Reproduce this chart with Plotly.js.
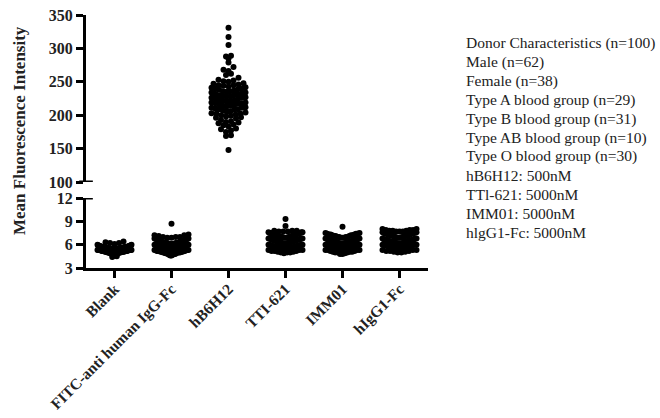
<!DOCTYPE html>
<html>
<head>
<meta charset="utf-8">
<script src="https://cdn.plot.ly/plotly-3.0.1.min.js"></script>
<style>html,body{margin:0;padding:0;background:#fff;}#chart{width:660px;height:418px;}</style>
</head>
<body>
<div id="chart"></div>
<script>
const categories = ["Blank", "FITC-anti human IgG-Fc", "hB6H12", "TTI-621", "IMM01", "hIgG1-Fc"];

const blank = [5.3,5.6,5.1,5.8,4.9,5.4,5.7,5.2,6.3,5.5, 5.0,5.6,5.3,4.7,5.9,5.4,5.1,5.7,5.5,6.2,
  5.2,4.8,5.6,5.3,5.8,5.0,5.4,4.5,5.7,5.5, 5.1,5.9,5.3,5.6,4.9,5.4,6.1,5.2,5.5,5.0,
  5.7,5.3,4.6,5.6,5.4,5.8,5.1,5.5,6.4,5.2, 4.9,5.6,5.3,5.7,5.0,5.4,5.9,5.2,5.5,4.8,
  5.6,5.1,5.8,5.3,6.0,5.4,4.7,5.7,5.2,5.5, 5.0,5.6,5.3,5.9,4.9,5.4,5.7,5.1,6.2,5.5,
  5.2,5.8,4.6,5.6,5.3,5.4,5.0,5.7,5.5,6.0, 5.1,4.8,5.6,5.3,5.8,5.4,4.4,5.7,5.2,5.5];

const fitc = [5.8,6.3,5.2,7.0,5.5,6.1,4.8,5.9,6.6,5.4, 5.1,6.0,7.2,5.6,4.9,6.4,5.3,5.8,6.9,5.0,
  6.2,5.5,4.6,5.7,6.7,5.2,6.0,5.4,7.3,5.9, 5.0,6.5,5.6,5.3,6.1,4.7,5.8,7.1,5.5,6.3,
  5.2,5.9,6.8,5.4,4.9,6.0,5.7,8.7,5.1,6.2, 5.6,5.0,6.4,5.3,7.0,5.8,4.8,6.1,5.5,5.9,
  6.6,5.2,5.7,4.6,6.3,5.4,6.9,5.0,5.8,6.0, 5.3,7.2,5.6,4.9,6.2,5.1,5.9,6.5,5.4,5.7,
  6.0,4.7,5.5,6.7,5.2,5.8,7.0,5.0,6.1,5.6, 5.4,6.4,4.8,5.9,5.3,6.8,5.1,5.7,6.2,5.5];

const hb6h12 = [221,245,198,236,183,262,214,229,205,252, 190,240,226,177,211,233,289,202,218,247,
  195,231,208,256,170,224,241,199,216,305, 228,186,237,212,250,203,222,180,243,209,
  234,266,193,219,227,148,239,206,253,214, 188,230,201,245,223,272,196,236,211,179,
  242,217,226,285,204,232,191,248,220,209, 260,185,238,225,200,317,213,244,228,197,
  268,218,234,175,207,251,222,279,189,240, 215,331,230,202,246,169,219,235,288,210];

const tti621 = [6.5,7.2,5.8,6.9,5.3,7.6,6.1,5.0,7.0,6.4, 5.6,7.8,6.7,5.2,7.3,6.0,9.3,6.8,5.5,7.1,
  6.3,5.9,7.5,4.9,6.6,7.7,5.4,6.2,7.0,5.7, 8.4,6.4,5.1,7.4,6.8,5.8,7.2,6.1,5.3,6.9,
  7.6,6.5,5.6,7.1,6.0,5.0,7.8,6.7,5.9,7.3, 6.2,5.4,7.0,6.6,5.2,7.5,6.3,5.7,6.9,7.7,
  5.5,6.4,7.2,6.0,5.1,6.8,7.4,5.8,6.5,7.0, 6.1,5.3,7.6,6.7,5.9,7.1,6.3,5.0,6.9,7.8,
  5.6,7.3,6.4,5.2,6.6,7.5,6.0,5.7,7.0,6.2, 7.2,5.4,6.8,6.5,5.8,7.7,6.1,5.5,6.7,7.4];

const imm01 = [6.0,6.8,5.4,7.2,5.8,6.4,5.1,6.6,7.0,5.6, 6.2,5.0,7.4,5.9,6.5,5.3,6.9,6.1,4.8,7.1,
  5.7,6.3,7.5,5.5,6.7,6.0,5.2,6.4,7.3,5.8, 8.3,6.1,5.4,6.8,5.9,7.0,5.0,6.5,6.2,5.6,
  7.2,5.7,6.4,5.3,6.9,6.0,7.4,5.5,6.6,5.1, 6.3,7.1,5.8,6.1,4.9,6.7,5.4,7.3,6.2,5.9,
  6.5,5.2,7.0,6.0,5.6,6.8,7.5,5.3,6.4,5.7, 6.1,7.2,5.5,6.6,5.0,6.3,7.1,5.8,6.9,6.2,
  5.4,6.7,7.4,5.9,6.0,5.1,6.5,7.0,5.6,6.3, 6.8,5.3,6.1,7.3,5.7,6.4,4.8,6.6,5.5,6.2];

const higg1fc = [6.5,7.3,5.8,7.9,6.1,5.4,7.0,6.7,5.2,7.6, 6.3,5.6,7.8,6.9,5.1,7.2,6.0,8.0,5.9,6.6,
  7.4,5.3,6.8,6.2,7.7,5.7,6.4,7.1,5.0,6.9, 6.1,7.5,5.5,6.6,7.9,5.9,7.0,6.3,5.2,7.3,
  6.7,5.8,7.6,6.0,5.4,7.2,6.5,7.8,5.6,6.8, 7.1,6.2,5.3,7.4,6.4,5.9,7.7,6.1,5.1,7.0,
  6.6,7.9,5.7,6.3,7.3,5.5,6.9,6.0,7.5,5.8, 6.4,5.2,7.6,6.7,5.9,7.1,6.2,7.8,5.4,6.5,
  7.2,6.0,5.6,7.0,6.8,5.0,7.4,6.3,5.8,7.7, 6.1,6.9,5.3,7.5,6.6,5.7,7.2,6.4,8.0,6.0];

const lowerTicks = [3, 6, 9, 12];
const upperTicks = [100, 150, 200, 250, 300, 350];
const yTitle = "Mean Fluorescence Intensity";
const notes = ["Donor Characteristics (n=100)", "Male (n=62)", "Female (n=38)",
  "Type A blood group (n=29)", "Type B blood group (n=31)", "Type AB blood group (n=10)",
  "Type O blood group (n=30)", "hB6H12: 500nM", "TTl-621: 5000nM", "IMM01: 5000nM", "hlgG1-Fc: 5000nM"];

// geometry
const W = 660, H = 418;
const M = {l: 86, r: 232, t: 15, b: 150};
const plotW = W - M.l - M.r, plotH = H - M.t - M.b;
const lowerDom = [0, 70 / plotH];
const upperDom = [86 / plotH, 1];
const lowerRange = [3, 12], upperRange = [100, 350];
const pxPerCat = plotW / categories.length;

function swarm(vals, idx, range, dom, binPx, dotPx, maxHalf) {
  const pxPerUnit = (dom[1] - dom[0]) * plotH / (range[1] - range[0]);
  const sorted = vals.slice().sort((a, b) => a - b);
  const bins = {};
  sorted.forEach(v => {
    const b = Math.floor((v - range[0]) * pxPerUnit / binPx + 1e-6);
    (bins[b] = bins[b] || []).push(v);
  });
  const xs = [], ys = [];
  Object.keys(bins).forEach(k => {
    const g = bins[k];
    const n = g.length;
    const s = n > 1 ? Math.min(dotPx, 2 * maxHalf / (n - 1)) : 0;
    const offs = [];
    if (n % 2 === 1) {
      offs.push(0);
      for (let i = 1; offs.length < n; i++) { offs.push(-i * s); if (offs.length < n) offs.push(i * s); }
    } else {
      for (let i = 0; offs.length < n; i++) { offs.push(-(i + 0.5) * s); offs.push((i + 0.5) * s); }
    }
    g.forEach((v, j) => { xs.push(idx + offs[j] / pxPerCat); ys.push(v); });
  });
  return {x: xs, y: ys};
}

const series = [blank, fitc, hb6h12, tti621, imm01, higg1fc];
const traces = series.map((vals, i) => {
  const upper = i === 2;
  const s = upper ? swarm(vals, i, upperRange, upperDom, 5, 5, 17)
                  : swarm(vals, i, lowerRange, lowerDom, 6, 4.5, 17);
  return {
    type: "scatter", mode: "markers", x: s.x, y: s.y,
    xaxis: "x", yaxis: upper ? "y2" : "y",
    marker: {color: "#000", size: 6, line: {width: 0}},
    hoverinfo: "skip", showlegend: false
  };
});

const font = {family: "Liberation Serif, Times New Roman, serif", color: "#222"};
const tickFontY = Object.assign({}, font, {size: 16});
const tickFontX = Object.assign({}, font, {size: 15.5});
const bold = t => "<b>" + t + "</b>";

const annotations = [{
  text: bold(yTitle), xref: "paper", yref: "paper", x: (19 - M.l) / plotW, y: 1 - (131 - M.t) / plotH,
  xanchor: "center", yanchor: "middle", textangle: -90, showarrow: false,
  font: Object.assign({}, font, {size: 17})
}];
notes.forEach((t, i) => {
  annotations.push({
    text: t, xref: "paper", yref: "paper",
    x: (464 - M.l) / plotW, y: 1 - (43 + i * 18.9 - M.t) / plotH,
    xanchor: "left", yanchor: "middle", showarrow: false,
    font: Object.assign({}, font, {size: 15.5, color: "#222"})
  });
});

const axisCommon = {
  showgrid: false, zeroline: false, showline: true, linecolor: "#000", linewidth: 3,
  ticks: "outside", ticklen: 7, tickwidth: 3, tickcolor: "#000"
};

const layout = {
  width: W, height: H, margin: M, paper_bgcolor: "#fff", plot_bgcolor: "#fff",
  showlegend: false,
  xaxis: Object.assign({}, axisCommon, {
    type: "linear", range: [-0.5, 5.5], tickvals: categories.map((c, i) => i), ticktext: categories.map(bold),
    tickangle: -45, tickfont: tickFontX, anchor: "y", ticklabelstandoff: -4
  }),
  yaxis: Object.assign({}, axisCommon, {
    domain: lowerDom, range: lowerRange, tickvals: lowerTicks, ticktext: lowerTicks.map(v => bold(v)),
    tickfont: tickFontY, anchor: "x"
  }),
  yaxis2: Object.assign({}, axisCommon, {
    domain: upperDom, range: upperRange, tickvals: upperTicks, ticktext: upperTicks.map(v => bold(v)),
    tickfont: tickFontY, anchor: "x"
  }),
  shapes: [
    {type: "line", xref: "paper", yref: "y", x0: -0.02, x1: 0.02, y0: 12, y1: 12, line: {color: "#000", width: 3}},
    {type: "line", xref: "paper", yref: "y2", x0: -0.02, x1: 0.02, y0: 100, y1: 100, line: {color: "#000", width: 3}}
  ],
  annotations: annotations
};

Plotly.newPlot("chart", traces, layout, {staticPlot: true, displayModeBar: false});
</script>
</body>
</html>
